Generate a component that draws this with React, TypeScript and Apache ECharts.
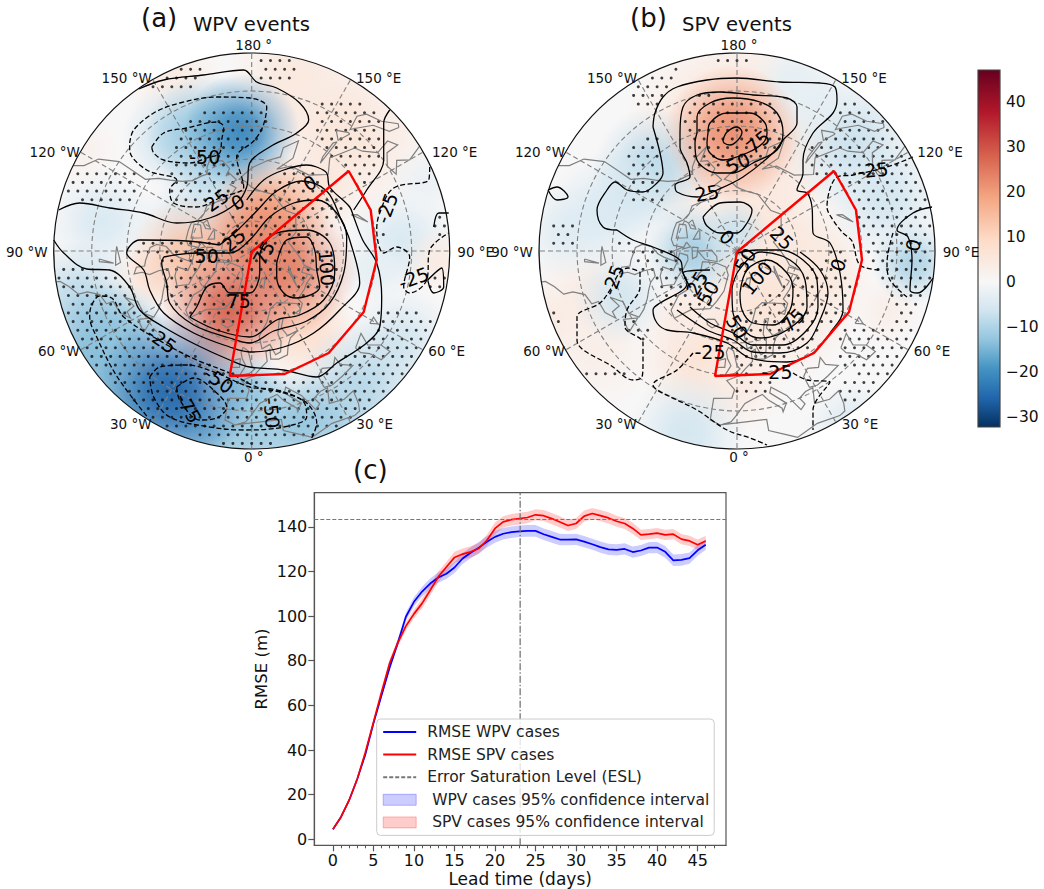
import React, { useEffect, useRef } from "react";
import * as echarts from "echarts";

type P = number[];
const FONT = "DejaVu Sans";

// ---------- panel (c) ----------
const days = Array.from({ length: 47 }, (_, i) => i);
const wpvRmse = [4.5, 10, 17.5, 27, 38, 52, 64.5, 77, 88, 99.7, 106.4, 111, 114.6, 117.3, 119, 121.8, 125.8, 128.4, 130.7, 133.3, 135.5, 136.9, 137.6, 138, 138.2, 138.2, 136.7, 135.5, 134.3, 134.3, 134.4, 133.4, 132.2, 130.9, 129.9, 129.7, 130.1, 128.7, 129.4, 130.7, 130.7, 128.8, 125, 125.2, 126, 129.5, 132];
const spvRmse = [4.5, 10, 17.5, 27, 39, 52.5, 66, 79, 88, 95.5, 101, 105.7, 111.6, 117.6, 122, 126.3, 127.8, 128.8, 130.3, 134, 139.3, 142.2, 143.2, 143.7, 144.2, 145.4, 145, 143.7, 142.2, 140.6, 141.5, 144.8, 146, 145, 144, 142.5, 141.5, 139.3, 136.4, 136.7, 137.2, 136.4, 136.7, 134.5, 133.7, 132, 133.7];
const wpvHalfWidth = [0.2, 0.3, 0.4, 0.6, 0.8, 1, 1.2, 1.4, 1.6, 1.8, 2, 2.2, 2.3, 2.4, 2.4, 2.5, 2.5, 2.5, 2.5, 2.5, 2.6, 2.6, 2.6, 2.6, 2.6, 2.6, 2.6, 2.6, 2.6, 2.5, 2.5, 2.5, 2.5, 2.5, 2.5, 2.5, 2.5, 2.5, 2.5, 2.5, 2.5, 2.6, 2.6, 2.6, 2.5, 2.4, 2.3];
const spvHalfWidth = [0.2, 0.3, 0.4, 0.6, 0.8, 1, 1.2, 1.4, 1.6, 1.8, 2, 2.2, 2.3, 2.4, 2.4, 2.5, 2.5, 2.5, 2.5, 2.5, 2.6, 2.6, 2.6, 2.6, 2.6, 2.5, 2.5, 2.5, 2.5, 2.5, 2.5, 2.5, 2.5, 2.5, 2.5, 2.5, 2.5, 2.5, 2.3, 2.3, 2.3, 2.3, 2.3, 2.3, 2.3, 2.3, 2.3];
const eslValue = 143.3;
const saturationDay = 23.1;
const xMajorTicks = [0, 5, 10, 15, 20, 25, 30, 35, 40, 45];
const xMinorTicks = Array.from({ length: 48 }, (_, i) => i);
const yTicks = [0, 20, 40, 60, 80, 100, 120, 140];
const colorTicks = [-30, -20, -10, 0, 10, 20, 30, 40];
const colorRange = [-32.2, 47];
const legendNames = ["RMSE WPV cases", "RMSE SPV cases", "Error Saturation Level (ESL)", "\u00a0WPV cases 95% confidence interval", "\u00a0SPV cases 95% confidence interval"];

// ---------- colour map ----------
const cmapValues = [-32.2, -25.8, -19.3, -12.9, -6.4, 0, 9.4, 18.8, 28.2, 37.6, 47];
const cmapColors = ["#053061", "#2166ac", "#4393c3", "#92c5de", "#d1e5f0", "#f7f7f7", "#fddbc7", "#f4a582", "#d6604d", "#b2182b", "#67001f"];

// ---------- map frame ----------
const graticuleLats = [80, 70, 60, 50, 40];
const graticuleLons = [0, 30, 60, 90, 120, 150, 180, 210, 240, 270, 300, 330];
const lonLabels: [string, number, number][] = [
  ["180 °", 2, -206], ["150 °W", -125, -173], ["150 °E", 127, -173], ["120 °W", -197, -99], ["120 °E", 203, -99],
  ["90 °W", -225, 1], ["90 °E", 224, 1], ["60 °W", -193, 100], ["60 °E", 195, 100], ["30 °W", -121, 173], ["30 °E", 123, 173], ["0 °", 2, 206],
];
const targetRegion: P[] = [[0, 1], [97, -80], [119, -41], [125, 9], [112, 61], [77, 102], [33, 123], [-22, 125], [0, 1]];

// ---------- coast lines (lon, lat) ----------
const coasts: P[][] = [
  [[-168, 66], [-162, 67], [-166, 68.5], [-157, 71], [-150, 70.5], [-141, 69.7], [-135, 69], [-128, 70], [-120, 69.5], [-115, 68], [-108, 68], [-100, 68], [-95, 69], [-94, 72], [-90, 69], [-85, 69.5], [-81, 69], [-85, 66], [-88, 64], [-93, 62], [-94, 59], [-92, 57], [-85, 55.5], [-82, 55], [-82, 52.5], [-79, 51.5], [-79, 54], [-77, 56], [-78, 59], [-78, 62], [-73, 62], [-70, 60], [-66, 58.5], [-62, 57], [-58, 54.5], [-56, 52], [-60, 50], [-66, 50], [-70, 47], [-65, 48.5], [-64, 46], [-61, 46], [-65, 44], [-70, 43.5], [-70, 41.5], [-74, 40.5], [-76, 37.5], [-76, 35], [-79, 33], [-81, 31], [-81, 29]],
  [[-168, 66], [-164, 63.5], [-161, 64], [-165, 62], [-162, 59], [-158, 58.5], [-164, 54.7], [-156, 57], [-152, 59], [-150, 61], [-146, 60.5], [-140, 60], [-135, 58], [-131, 55], [-128, 52], [-124, 49], [-124, 44], [-124, 40], [-121, 35], [-117, 32.5], [-115, 29]],
  [[-84, 30], [-90, 30], [-94, 29.6], [-97, 28]],
  [[-80, 73.5], [-72, 71.5], [-67, 69], [-62, 66.5], [-65, 63], [-72, 63.5], [-78, 65], [-73, 68], [-80, 70], [-88, 71], [-85, 73.5], [-80, 73.5]],
  [[-117, 71], [-105, 73], [-102, 69.5], [-115, 69], [-117, 71]],
  [[-125, 72], [-118, 74.5], [-116, 73], [-120, 71.5], [-125, 72]],
  [[-90, 77], [-75, 79], [-62, 82.5], [-75, 83], [-92, 81.5], [-90, 77]],
  [[-95, 75], [-80, 75], [-82, 76.5], [-95, 77], [-95, 75]],
  [[-100, 73], [-92, 72], [-95, 74.5], [-100, 73]],
  [[-118, 75.5], [-105, 75], [-108, 77], [-118, 76], [-118, 75.5]],
  [[-59, 47.7], [-53, 47], [-56, 51.5], [-59, 47.7]],
  [[-73, 78], [-60, 82], [-35, 83.5], [-20, 81.5], [-18, 76], [-22, 72], [-25, 69], [-38, 65.5], [-43, 60], [-48, 61], [-53, 66], [-52, 69], [-55, 72], [-60, 76], [-73, 78]],
  [[-24, 65.5], [-18, 66.3], [-14, 65], [-18, 63.5], [-22, 64], [-24, 65.5]],
  [[-5, 58.5], [-2, 57.5], [0, 53], [1.5, 52], [-1, 50.7], [-5.5, 50], [-3, 53], [-5, 55], [-6, 57], [-5, 58.5]],
  [[-6, 55], [-10, 54], [-10, 52], [-6, 52.3], [-6, 55]],
  [[-5.5, 36], [-9, 37], [-9, 43], [-2, 43.5], [-1, 46], [-4.5, 48.5], [1, 50], [4, 52], [8, 54], [8, 57], [10.5, 57.5], [10, 54.5], [14, 54], [19, 54.5], [21, 57], [24, 59], [30, 60], [23, 60], [21, 63], [25, 65.5], [22, 65.8], [17.5, 61.5], [18, 59], [16, 56], [13, 55.5], [11, 59], [6, 58], [5, 62], [12, 66], [18, 70], [26, 71], [33, 69.5], [41, 67], [40, 65], [35, 65], [37, 64], [44, 66], [44, 68], [54, 68.5], [60, 69], [68, 68.5], [67, 72], [73, 72], [73, 68], [75, 72], [81, 73.5], [90, 75.5], [104, 77.5], [113, 74], [130, 71], [140, 72.5], [160, 70], [170, 70], [180, 69], [-175, 67], [-170, 66], [-175, 64.5], [179, 62.5], [170, 60], [163, 58], [163, 55], [157, 51.5], [156, 57], [163, 62], [155, 59.5], [143, 59], [135, 55], [140, 51], [135, 44], [132, 43], [128, 40], [129, 36], [126, 34.5], [126, 38], [122, 40], [118, 39], [122, 37], [120, 34], [122, 30]],
  [[-5.5, 36], [-2, 37], [0, 39], [3, 42], [6, 43], [10, 44], [12, 42], [16, 39], [16, 38], [18, 40], [13, 44], [14, 45.5], [19, 42], [22, 37], [24, 38], [23, 40], [26, 41], [29, 41], [27, 37], [32, 36], [36, 36.5], [35, 33], [34, 31.3], [32, 31], [25, 32], [20, 31], [18, 30.5], [15, 32], [10, 34], [10, 37], [3, 37], [-5.5, 36]],
  [[28, 41.5], [28, 45], [31, 46.5], [35, 45], [38, 47], [38, 44.5], [41.5, 42], [36, 41.5], [31, 41], [28, 41.5]],
  [[47, 45], [53, 46.5], [51, 43], [54, 40], [54, 37], [50, 37.5], [49, 41], [47, 43], [47, 45]],
  [[58.5, 46], [61.5, 46], [60, 44], [58.5, 46]],
  [[104, 51.5], [110, 55.7], [109, 54], [104, 51.5]],
  [[52, 71], [56, 73], [68, 76.8], [60, 75.5], [54, 72.5], [52, 71]],
  [[12, 78], [20, 80.3], [27, 80], [18, 77], [12, 78]],
  [[130, 31.5], [131, 34], [136, 36], [140, 40], [141, 41], [142, 37], [140, 35], [135, 33.7], [131, 31], [130, 31.5]],
  [[140, 42], [142, 45.5], [145, 43.5], [141, 42], [140, 42]],
  [[142, 46], [142, 54], [143, 52], [143, 47], [142, 46]],
  [[-92, 47], [-85, 48], [-84, 46.5], [-88, 46.7], [-92, 47]],
  [[-87, 42], [-85, 46], [-86, 42], [-87, 42]],
  [[48, 30], [50, 29.5], [52, 28]],
];

// ---------- panel (a) fields: x, y, anomaly, reach ----------
const wpvBlobs: P[] = [
  [95, -118, 6, 95], [40, -175, 5, 65], [-80, -178, 4, 50], [150, -150, 3, 50], [-150, -30, -5, 55], [-70, -30, -4, 45], [150, -10, -5, 55], [120, 20, -3, 35], [185, 10, 4, 35], [175, -70, -2, 40], [-170, -100, 2, 40],
  [-20, -85, -9, 55], [-40, -65, -7, 50], [-75, -115, -8, 55], [-45, -118, -13, 60], [-10, -120, -21, 58],
  [60, 85, 4, 55], [-30, 100, 5, 40], [-105, 25, 5, 40], [60, -55, 7, 45], [45, 70, 9, 55], [-62, 6, 14, 62], [18, -38, 19, 60], [0, -10, 22, 60], [38, 19, 24, 68], [-22, 59, 28, 68],
  [-172, 50, -9, 60], [150, 90, -6, 55], [110, 135, -9, 65], [85, 165, -10, 50], [45, 172, -13, 55], [0, 178, -12, 60], [-50, 178, -14, 55], [-110, 150, -15, 65], [-150, 105, -15, 70], [-135, 85, -13, 55], [-5, 140, -13, 40], [-78, 139, -26, 78],
];
const wpvStipple: P[][] = [
  [[5, -196], [45, -196], [45, -172], [8, -172]],
  [[-85, -181], [-48, -188], [-48, -178], [-58, -161], [-105, -161], [-112, -164]],
  [[-62, -131], [-35, -144], [8, -144], [15, -131], [11, -111], [-15, -94], [-8, -64], [-35, -54], [-48, -44], [-82, -48], [-82, -74], [-78, -108]],
  [[-178, -81], [-112, -81], [-115, -51], [-172, -51], [-185, -61]],
  [[65, -153], [108, -153], [128, -138], [128, -81], [108, -60], [98, -80], [72, -94], [65, -124]],
  [[-2, -54], [32, -78], [65, -81], [78, -64], [98, -44], [78, -14], [85, 19], [68, 56], [25, 69], [-2, 86], [-35, 79], [-65, 66], [-82, 49], [-92, 12], [-122, -1], [-108, -11], [-65, -11], [-30, -15], [-15, -45]],
  [[-197, 9], [-158, 19], [-125, 29], [-112, 59], [-82, 92], [-48, 109], [-22, 121], [-2, 126], [32, 124], [65, 126], [112, 92], [125, 72], [125, 59], [165, 59], [181, 66], [162, 112], [118, 159], [65, 186], [-2, 196], [-35, 192], [-100, 170], [-170, 100], [-197, 30]],
  [[175, 22], [197, 16], [197, 42], [178, 42]],
  [[125, -24], [142, -24], [138, -11], [125, -11]],
  [[182, -34], [198, -34], [198, -11], [182, -11]],
];
const wpvSolid: P[][] = [
  [[-113, -162], [-88, -171], [-48, -176], [-8, -181], [5, -169], [25, -163], [48, -148], [57, -131], [45, -118], [18, -104], [-2, -88], [-5, -64], [-15, -48], [-42, -33], [-75, -28], [-108, -38], [-142, -43], [-172, -48], [-193, -41]],
  [[-198, -11], [-188, 2], [-165, 18], [-142, 19], [-122, 36], [-112, 59], [-88, 76], [-55, 94], [-22, 109], [-2, 116], [32, 119], [65, 126], [85, 112], [115, 92], [128, 76], [130, 46], [125, 12], [111, -11], [102, -34], [98, -44], [78, -64], [75, -78], [65, -84], [55, -86], [32, -81], [12, -71], [-5, -51]],
  [[138, -141], [132, -128], [132, -91], [115, -61], [102, -41]],
  [[182, -24], [187, -38], [197, -38]],
];
const wpvSolidLoops: P[][] = [
  [[-32, -6], [-65, -10], [-112, -11], [-125, 2], [-108, 19], [-102, 39], [-88, 62], [-58, 82], [-22, 96], [-2, 101], [32, 96], [62, 82], [88, 59], [108, 32], [98, -11], [90, -30], [75, -60], [50, -70], [25, -60], [5, -40], [-15, -20]],
  [[-88, 6], [-90, 12], [-85, 32], [-82, 52], [-58, 74], [-22, 87], [-2, 92], [22, 80], [55, 70], [78, 52], [92, 22], [95, -14], [85, -38], [65, -51], [42, -48], [18, -34], [-2, -11], [-22, 2], [-55, 2]],
  [[-62, 66], [-55, 56], [-45, 36], [-32, 32], [-22, 42], [-2, 42], [8, 22], [8, 6], [25, -18], [55, -21], [78, -8], [83, 22], [72, 49], [48, 64], [25, 69], [-2, 86], [-35, 79]],
  [[25, 12], [35, -11], [55, -14], [63, -1], [65, 19], [68, 36], [45, 47], [32, 42], [25, 26]],
  [[176, 29], [190, 17], [192, 36], [182, 42]],
];
const wpvDashed: P[][] = [
  [[-105, 165], [-135, 125], [-155, 86], [-162, 66], [-160, 54], [-152, 45], [-140, 47], [-128, 66], [-88, 92], [-55, 109], [-22, 122], [5, 136], [32, 142], [55, 152], [65, 172], [60, 187]],
  [[178, -84], [177, -71], [142, -63], [128, -38], [125, -21], [132, 2], [145, -4], [158, 6], [152, 36], [158, 42], [175, 29], [178, -1], [197, -18]],
];
const wpvDashedLoops: P[][] = [
  [[-122, -108], [-118, -121], [-98, -138], [-72, -148], [-35, -154], [-2, -153], [15, -144], [11, -124], [2, -110], [-15, -94], [-8, -64], [-30, -54], [-55, -44], [-78, -48], [-82, -61], [-75, -71], [-105, -81], [-122, -101]],
  [[-100, -104], [-88, -118], [-65, -123], [-35, -129], [-28, -124], [-30, -111], [-32, -98], [-45, -93], [-62, -88], [-88, -91], [-98, -98]],
  [[-102, 126], [-92, 116], [-65, 114], [-35, 122], [-2, 136], [25, 139], [52, 151], [55, 166], [32, 176], [-8, 179], [-42, 176], [-82, 166], [-98, 146]],
  [[-75, 136], [-58, 127], [-35, 142], [-25, 156], [-35, 167], [-52, 169], [-72, 149]],
];
const wpvLabels: [string, number, number, number][] = [
  ["-50", -47, -94, 0], ["25", -35, -51, 35], ["0", -14, -49, 30], ["0", 58, -68, 30], ["-25", 135, -43, 70], ["25", -18, -11, 40], ["50", -45, 5, 0], ["75", 12, 2, 60], ["100", 75, 17, -85], ["75", -13, 50, 0], ["-25", -90, 89, -35], ["-50", -33, 129, -35], ["-75", -63, 157, -60], ["-50", 20, 162, -85], ["-25", 162, 27, 20],
];

// ---------- panel (b) fields ----------
const spvBlobs: P[] = [
  [36, 46, 7, 90], [40, -10, 5, 80], [85, 20, 5, 55], [-34, 106, 7, 70], [-50, 65, 4, 45], [-150, 50, 4, 65], [-184, 72, 4, 40], [0, 135, 4, 50], [-140, 100, 3, 60], [150, 60, 3, 35], [-4, -115, 9, 110],
  [-84, -84, -9, 60], [-105, -60, -6, 45], [-44, 0, -11, 48], [-3, -20, -7, 35], [116, -108, -7, 70], [75, -150, -3, 45], [176, 12, -10, 42], [150, -50, -6, 60], [116, 179, -5, 50], [-50, 180, -6, 60], [-117, 46, -6, 48], [-170, -20, -4, 50], [55, -172, -3, 40], [-130, -40, -5, 60],
  [-4, -118, 22, 68],
];
const spvStipple: P[][] = [
  [[-114, -154], [-100, -171], [-57, -186], [-54, -176], [-67, -164], [-80, -138], [-100, -141]],
  [[-27, -195], [10, -195], [10, -190], [-27, -190]],
  [[-40, -158], [40, -148], [46, -124], [43, -104], [16, -81], [-30, -78], [-47, -91], [-54, -134]],
  [[-107, -111], [-80, -114], [-74, -78], [-80, -54], [-100, -55], [-110, -71]],
  [[-107, -55], [-74, -55], [-74, -45], [-104, -45]],
  [[100, -154], [136, -144], [166, -108], [196, -54], [199, -1], [196, 42], [176, 59], [160, 56], [130, 16], [126, -18], [120, -41], [103, -71], [73, -71], [70, -104], [100, -124]],
  [[163, 56], [180, 59], [173, 112], [146, 146], [103, 152], [103, 126], [143, 119], [153, 79]],
  [[103, 79], [153, 79], [143, 119], [103, 119]],
  [[16, 56], [60, 22], [83, 12], [103, -11], [116, 29], [103, 62], [76, 96], [36, 112], [-4, 136], [-4, 102], [-14, 82], [0, 72]],
  [[-187, -18], [-160, -18], [-160, -1], [-187, -1]],
  [[-187, -31], [-160, -31], [-160, -14], [-187, -14]],
  [[-124, -11], [-60, -1], [-50, 32], [-77, 39], [-104, 9]],
  [[-80, 39], [-30, 25], [-27, 60], [-70, 60]],
  [[-157, 119], [-110, 122], [-117, 131], [-147, 129]],
  [[-190, 52], [-174, 62], [-177, 79], [-187, 59]],
  [[-110, 62], [-87, 79], [-94, 92], [-110, 82]],
  [[-10, 132], [43, 129], [36, 139], [-4, 146]],
];
const spvSolid: P[][] = [
  [[-120, -21], [-104, -11], [-84, -4], [-57, 9], [-54, 22], [-47, 36]],
  [[-84, -124], [-82, -138], [-74, -154], [-60, -164], [-30, -171], [0, -173], [43, -169], [83, -168], [98, -164], [100, -151], [96, -138], [76, -118], [66, -91], [66, -78], [60, -61], [70, -58], [75, -44], [76, -18], [93, -8], [103, 22], [106, 59], [93, 82], [76, 102], [50, 111], [13, 107], [-10, 92], [-44, 82], [-70, 79], [-80, 72], [-84, 59], [-77, 52], [-54, 39], [-50, 32], [-54, 22], [-27, 19]],
  [[-84, -124], [-77, -98], [-74, -78], [-80, -68], [-94, -59], [-110, -61], [-122, -69], [-130, -61], [-140, -41], [-134, -24], [-120, -21]],
  [[0, 2], [20, -1], [43, -1], [66, 9], [80, 29], [81, 56], [70, 79], [46, 94], [16, 94], [-4, 82], [-27, 72], [-47, 56]],
  [[63, 1], [83, 19], [91, 42], [83, 69], [70, 92], [43, 102], [16, 101], [-4, 89], [-30, 79], [-60, 59]],
  [[195, -44], [176, -38], [160, -21], [171, -14], [175, 9], [173, 39], [181, 42], [196, 27]],
];
const spvSolidLoops: P[][] = [
  [[3, 42], [10, 19], [30, 9], [50, 22], [56, 39], [53, 59], [36, 74], [16, 72], [5, 59]],
  [[0, 22], [23, 1], [53, 9], [68, 29], [70, 56], [50, 79], [23, 87], [10, 82], [-4, 62], [-5, 39]],
  [[-34, -34], [-17, -48], [3, -49], [15, -41], [10, -28], [0, -18], [-17, -18], [-30, -25]],
  [[-57, -118], [-54, -144], [-40, -156], [-17, -159], [16, -156], [50, -153], [60, -144], [60, -128], [46, -111], [36, -98], [6, -74], [-20, -61], [-40, -54], [-60, -59], [-62, -66], [-47, -74], [-50, -88], [-57, -104]],
  [[-40, -118], [-40, -134], [-27, -148], [-4, -153], [23, -149], [40, -138], [46, -118], [40, -101], [16, -88], [-4, -78], [-20, -78], [-40, -91], [-42, -108]],
  [[-29, -118], [-27, -128], [-10, -138], [13, -138], [28, -128], [30, -118], [26, -108], [10, -98], [-14, -91], [-27, -98], [-30, -108]],
  [[-14, -111], [-10, -119], [0, -124], [5, -119], [1, -111], [-7, -106], [-13, -108]],
  [[-189, -61], [-180, -64], [-169, -54], [-180, -51]],
];
const spvDashed: P[][] = [
  [[176, -94], [150, -84], [116, -76], [100, -74], [90, -44], [96, -31], [106, -18], [115, -10], [123, 14], [143, 19]],
  [[156, -18], [150, 12], [153, 29], [170, 46]],
  [[-44, 102], [-60, 119], [-84, 134], [-80, 139], [-60, 149], [-40, 159], [-10, 179], [13, 187], [30, 194]],
  [[56, 122], [70, 129], [93, 131], [76, 159], [76, 179]],
];
const spvDashedLoops: P[][] = [
  [[-97, 21], [-97, 36], [-110, 59], [-112, 76], [-94, 92], [-94, 112], [-95, 126], [-104, 129], [-124, 116], [-160, 89], [-160, 66], [-137, 52], [-127, 39], [-117, 21], [-109, 17]],
];
const spvLabels: [string, number, number, number][] = [
  ["75", 21, -109, 40], ["50", 1, -88, 25], ["25", -30, -58, 10], ["-25", 136, -81, 5], ["25", 45, -13, -45], ["0", -10, -14, -45], ["50", 8, 9, 60], ["100", 20, 27, 50], ["75", 56, 69, 45], ["50", 0, 76, -60], ["-25", -27, 101, 0], ["-25", 40, 121, 0], ["0", 101, 14, 70], ["0", 176, -6, 75], ["-25", -124, 29, 70], ["50", -29, 42, 60], ["25", -40, 32, 60],
];

// ---------- helpers ----------
const RADIUS = 198;
const HIDDEN_SYMBOL = "path://M0,0L1,1";
const project = ([lon, lat]: P): P => {
  const r = 343 * Math.tan(((90 - lat) / 2) * (Math.PI / 180));
  const a = (lon * Math.PI) / 180;
  return [r * Math.sin(a), r * Math.cos(a)];
};
const hex = (c: string) => [1, 3, 5].map((i) => parseInt(c.slice(i, i + 2), 16));
const colorOf = (v: number): number[] => {
  for (let i = 1; i < cmapValues.length; i++) {
    if (v <= cmapValues[i]) {
      const t = (v - cmapValues[i - 1]) / (cmapValues[i] - cmapValues[i - 1]);
      const a = hex(cmapColors[i - 1]);
      const b = hex(cmapColors[i]);
      return a.map((x, k) => Math.round(x + (b[k] - x) * t));
    }
  }
  return hex(cmapColors[cmapColors.length - 1]);
};
const inside = (p: P, poly: P[]) => {
  let hit = false;
  for (let i = 0, j = poly.length - 1; i < poly.length; j = i++) {
    const [xi, yi] = poly[i];
    const [xj, yj] = poly[j];
    if (yi > p[1] !== yj > p[1] && p[0] < ((xj - xi) * (p[1] - yi)) / (yj - yi) + xi) hit = !hit;
  }
  return hit;
};
const stippleDots = (polys: P[][]) => {
  const dots: P[] = [];
  const dy = 8.7;
  const dx = 9.4;
  for (let row = -23; row <= 23; row++) {
    for (let col = -22; col <= 22; col++) {
      const p = [col * dx + (row % 2 ? dx / 2 : 0), row * dy + 1];
      if (Math.hypot(p[0], p[1]) < RADIUS - 3 && polys.some((q) => inside(p, q))) dots.push(p);
    }
  }
  return dots;
};

const mapSeries = (g: number, blobs: P[], stipple: P[][], solid: P[][], solidLoops: P[][], dashed: P[][], dashedLoops: P[][], labels: [string, number, number, number][]) => {
  const axes = { xAxisIndex: g, yAxisIndex: g, silent: true };
  const centre = (api: any) => api.coord([0, 0]);
  const clip = (api: any) => {
    const c = centre(api);
    return { type: "circle", shape: { cx: c[0], cy: c[1], r: RADIUS } };
  };
  const line = (data: P[], dash: boolean, z: number) => ({
    type: "line", ...axes, data, smooth: 0.35, showSymbol: false, symbol: "none", z,
    lineStyle: { color: "#000", width: 1.3, type: dash ? [5, 2.5] : "solid" },
  });
  const closeLoop = (p: P[]) => [...p, p[0]];
  return [
    { type: "custom", ...axes, z: 1, data: [[0, 0]], renderItem: (_: any, api: any) => {
      const c = centre(api);
      return { type: "circle", shape: { cx: c[0], cy: c[1], r: RADIUS }, style: { fill: "#f8f7f7" } };
    } },
    { type: "custom", ...axes, z: 1, data: blobs, renderItem: (_: any, api: any) => {
      const c = api.coord([api.value(0), api.value(1)]);
      const [r, gb, b] = colorOf(api.value(2));
      const rgba = (a: number) => `rgba(${r},${gb},${b},${a})`;
      return {
        type: "circle", shape: { cx: c[0], cy: c[1], r: api.size([api.value(3), 0])[0] },
        style: { fill: new echarts.graphic.RadialGradient(0.5, 0.5, 0.5, [
          { offset: 0, color: rgba(0.95) }, { offset: 0.3, color: rgba(0.8) }, { offset: 0.65, color: rgba(0.35) }, { offset: 1, color: rgba(0) },
        ]) },
        clipPath: clip(api),
      };
    } },
    { type: "scatter", ...axes, z: 2, data: stippleDots(stipple), symbol: "circle", symbolSize: 3, itemStyle: { color: "#111" } },
    { type: "custom", ...axes, z: 2, data: graticuleLats.map((lat) => [lat, 0]), renderItem: (_: any, api: any) => {
      const c = centre(api);
      const r = Math.hypot(...project([0, api.value(0)]));
      return { type: "circle", shape: { cx: c[0], cy: c[1], r: api.size([r, 0])[0] }, style: { fill: "none", stroke: "#808080", lineWidth: 1.1, lineDash: [5, 3] } };
    } },
    { type: "custom", ...axes, z: 2, data: graticuleLons.map((lon) => [lon, 0]), renderItem: (_: any, api: any) => {
      const c = centre(api);
      const e = project([api.value(0), 30]);
      const t = api.coord(e);
      return { type: "line", shape: { x1: c[0], y1: c[1], x2: t[0], y2: t[1] }, style: { stroke: "#808080", lineWidth: 1.1, lineDash: [5, 3] } };
    } },
    { type: "custom", ...axes, z: 3, data: coasts.map((_, i) => [i, 0]), renderItem: (params: any, api: any) => ({
      type: "polyline", shape: { points: coasts[params.dataIndex].map((p) => api.coord(project(p))) },
      style: { fill: "none", stroke: "#7f7f7f", lineWidth: 1.2 }, clipPath: clip(api),
    }) },
    ...solid.map((d) => line(d, false, 4)),
    ...solidLoops.map((d) => line(closeLoop(d), false, 4)),
    ...dashed.map((d) => line(d, true, 4)),
    ...dashedLoops.map((d) => line(closeLoop(d), true, 4)),
    { type: "line", ...axes, z: 5, data: targetRegion, showSymbol: false, symbol: "none", lineStyle: { color: "#f00", width: 2.4 } },
    { type: "custom", ...axes, z: 6, data: [[0, 0]], renderItem: (_: any, api: any) => {
      const c = centre(api);
      return { type: "circle", shape: { cx: c[0], cy: c[1], r: RADIUS }, style: { fill: "none", stroke: "#111", lineWidth: 1.2 } };
    } },
    { type: "custom", ...axes, z: 7, data: labels.map((l) => [l[1], l[2]]), renderItem: (params: any, api: any) => {
      const c = api.coord([api.value(0), api.value(1)]);
      const l = labels[params.dataIndex];
      return { type: "text", x: c[0], y: c[1], rotation: (l[3] * Math.PI) / 180, style: { text: l[0], fontFamily: FONT, fontSize: 19, fill: "#000", align: "center", verticalAlign: "middle" } };
    } },
    { type: "custom", ...axes, z: 7, data: lonLabels.map((l) => [l[1], l[2]]), renderItem: (params: any, api: any) => {
      const c = api.coord([api.value(0), api.value(1)]);
      return { type: "text", x: c[0], y: c[1], style: { text: lonLabels[params.dataIndex][0], fontFamily: FONT, fontSize: 13.5, fill: "#111", align: "center", verticalAlign: "middle" } };
    } },
  ];
};

const hiddenAxis = (gridIndex: number, inverse = false, lim = 200) => ({ type: "value", gridIndex, min: -lim, max: lim, show: false, inverse });
const pairs = (ys: number[]) => ys.map((y, i) => [days[i], y]);
const bandSeries = (name: string, values: number[], half: number[], color: string) => ({
  type: "custom", name, xAxisIndex: 2, yAxisIndex: 2, silent: true, z: 2, itemStyle: { color },
  data: pairs(values),
  renderItem: (params: any, api: any) => {
    if (params.dataIndex !== 0) return null;
    const upper = days.map((d, i) => api.coord([d, values[i] + half[i]]));
    const lower = days.map((d, i) => api.coord([d, values[i] - half[i]])).reverse();
    return { type: "polygon", shape: { points: [...upper, ...lower] }, style: { fill: color } };
  },
});
const titleStyle = (fontSize: number) => ({ fontFamily: FONT, fontSize, fontWeight: "normal", color: "#111" });

const option: any = {
  animation: false,
  backgroundColor: "#fff",
  textStyle: { fontFamily: FONT },
  title: [
    { text: "(a)", left: 141, top: 5, padding: 0, textStyle: titleStyle(26) },
    { text: "WPV events", left: 193, top: 14, padding: 0, textStyle: titleStyle(19.6) },
    { text: "(b)", left: 630, top: 5, padding: 0, textStyle: titleStyle(26) },
    { text: "SPV events", left: 682, top: 14, padding: 0, textStyle: titleStyle(19.6) },
    { text: "(c)", left: 353, top: 457, padding: 0, textStyle: titleStyle(26) },
  ],
  grid: [
    { left: 51.7, top: 51, width: 400, height: 400 },
    { left: 537, top: 51, width: 400, height: 400 },
    { left: 314.3, top: 492.7, width: 411.7, height: 352.6, show: true, borderColor: "#555", borderWidth: 1.2, backgroundColor: "transparent" },
    { left: 978, top: 70, width: 22, height: 357 },
  ],
  xAxis: [
    hiddenAxis(0),
    hiddenAxis(1),
    {
      type: "value", gridIndex: 2, position: "bottom", min: -2.3, max: 48.5, name: "Lead time (days)", nameLocation: "middle", nameGap: 25,
      nameTextStyle: { fontFamily: FONT, fontSize: 17, color: "#111" },
      splitLine: { show: false }, axisLine: { onZero: false, lineStyle: { color: "#555", width: 1.2 } },
      axisTick: { length: 6, customValues: xMajorTicks, lineStyle: { color: "#555", width: 1.2 } },
      axisLabel: { customValues: xMajorTicks, fontFamily: FONT, fontSize: 16, color: "#111", margin: 7 },
    },
    { type: "value", gridIndex: 3, min: 0, max: 1, show: false },
    {
      type: "value", gridIndex: 2, position: "bottom", min: -2.3, max: 48.5, splitLine: { show: false }, axisLine: { show: false, onZero: false },
      axisTick: { length: 3, customValues: xMinorTicks, lineStyle: { color: "#555", width: 1 } }, axisLabel: { show: false },
    },
  ],
  yAxis: [
    hiddenAxis(0, true),
    hiddenAxis(1, true),
    {
      type: "value", gridIndex: 2, min: -2.7, max: 155.3, name: "RMSE (m)", nameLocation: "middle", nameGap: 44,
      nameTextStyle: { fontFamily: FONT, fontSize: 16.5, color: "#111" },
      splitLine: { show: false }, axisLine: { show: true, onZero: false, lineStyle: { color: "#555", width: 1.2 } },
      axisTick: { show: true, length: 6, customValues: yTicks, lineStyle: { color: "#555", width: 1.2 } },
      axisLabel: { customValues: yTicks, fontFamily: FONT, fontSize: 16, color: "#111", margin: 7 },
    },
    {
      type: "value", gridIndex: 3, position: "right", min: colorRange[0], max: colorRange[1], splitLine: { show: false },
      axisLine: { show: false },
      axisTick: { show: true, length: 4, customValues: colorTicks, lineStyle: { color: "#444", width: 1.2 } },
      axisLabel: { customValues: colorTicks, fontFamily: FONT, fontSize: 15.5, color: "#111", margin: 6, formatter: (v: number) => String(v).replace("-", "\u2212") },
    },
  ],
  legend: {
    orient: "vertical", left: 376.7, top: 719, padding: [5, 5, 5, 5.5], itemGap: 6.6, itemWidth: 33, itemHeight: 11,
    backgroundColor: "rgba(255,255,255,0.8)", borderColor: "#ccc", borderWidth: 1, borderRadius: 4, selectedMode: false, z: 10,
    textStyle: { fontFamily: FONT, fontSize: 15.5, color: "#222", lineHeight: 16, padding: [0, 0, 0, 6] },
    data: [
      { name: legendNames[0] }, { name: legendNames[1] }, { name: legendNames[2] },
      { name: legendNames[3], icon: "rect", itemStyle: { color: "rgba(0,0,255,0.2)", borderColor: "rgba(0,0,255,0.25)", borderWidth: 1, opacity: 1 } },
      { name: legendNames[4], icon: "rect", itemStyle: { color: "rgba(255,0,0,0.2)", borderColor: "rgba(255,0,0,0.25)", borderWidth: 1, opacity: 1 } },
    ],
  },
  series: [
    ...mapSeries(0, wpvBlobs, wpvStipple, wpvSolid, wpvSolidLoops, wpvDashed, wpvDashedLoops, wpvLabels),
    ...mapSeries(1, spvBlobs, spvStipple, spvSolid, spvSolidLoops, spvDashed, spvDashedLoops, spvLabels),
    bandSeries(legendNames[3], wpvRmse, wpvHalfWidth, "rgba(0,0,255,0.2)"),
    bandSeries(legendNames[4], spvRmse, spvHalfWidth, "rgba(255,0,0,0.2)"),
    { type: "line", name: legendNames[0], xAxisIndex: 2, yAxisIndex: 2, data: pairs(wpvRmse), showSymbol: false, symbol: HIDDEN_SYMBOL, silent: true, lineStyle: { color: "#0000ff", width: 1.7 }, itemStyle: { color: "#0000ff" }, z: 3 },
    { type: "line", name: legendNames[1], xAxisIndex: 2, yAxisIndex: 2, data: pairs(spvRmse), showSymbol: false, symbol: HIDDEN_SYMBOL, silent: true, lineStyle: { color: "#ff0000", width: 1.7 }, itemStyle: { color: "#ff0000" }, z: 3 },
    { type: "line", name: legendNames[2], xAxisIndex: 2, yAxisIndex: 2, data: [[-2.3, eslValue], [48.5, eslValue]], showSymbol: false, symbol: HIDDEN_SYMBOL, silent: true, lineStyle: { color: "#777", width: 1.2, type: [4, 2] }, itemStyle: { color: "#777" }, z: 3 },
    { type: "line", xAxisIndex: 2, yAxisIndex: 2, data: [[saturationDay, -2.7], [saturationDay, 155.3]], showSymbol: false, symbol: "none", silent: true, lineStyle: { color: "#777", width: 1.3, type: [7, 2, 1.5, 2] }, z: 3 },
    { type: "custom", xAxisIndex: 3, yAxisIndex: 3, silent: true, z: 3, data: [[0, colorRange[0]]], renderItem: (_: any, api: any) => {
      const a = api.coord([0, colorRange[1]]);
      const b = api.coord([1, colorRange[0]]);
      const span = colorRange[1] - colorRange[0];
      return {
        type: "rect", shape: { x: a[0], y: a[1], width: b[0] - a[0], height: b[1] - a[1] },
        style: {
          fill: new echarts.graphic.LinearGradient(0, 0, 0, 1, cmapValues.map((v, i) => ({ offset: (colorRange[1] - v) / span, color: cmapColors[i] })).reverse()),
          stroke: "#444", lineWidth: 1.2,
        },
      };
    } },
  ],
};

export default function App() {
  const ref = useRef<HTMLDivElement>(null);
  useEffect(() => {
    const chart = echarts.init(ref.current!, undefined, { renderer: "svg" });
    chart.setOption(option);
    return () => chart.dispose();
  }, []);
  return <div ref={ref} style={{ position: "absolute", left: 0, top: 0, width: 1044, height: 889 }} />;
}
